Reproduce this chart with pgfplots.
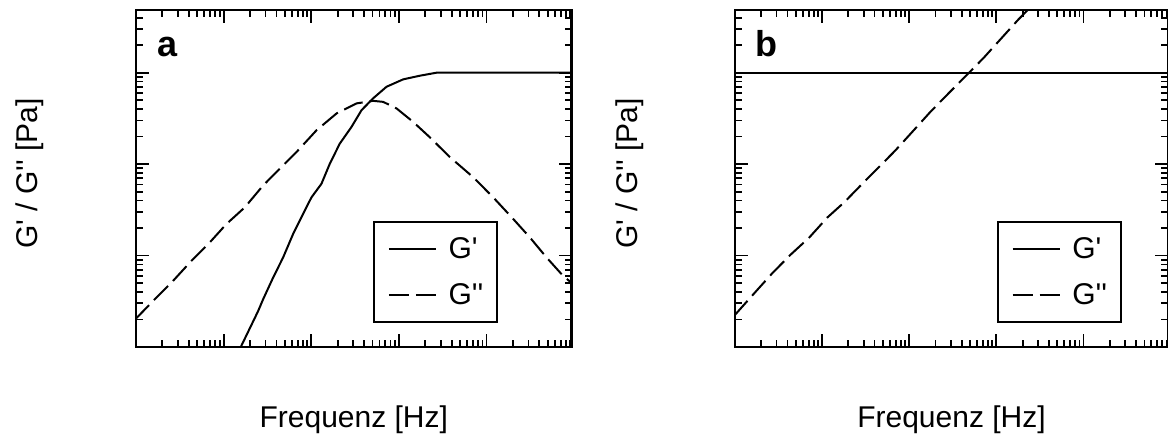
\documentclass[border=0pt]{standalone}
\usepackage{fontspec}
\setmainfont{Liberation Sans}
\usepackage{pgfplots}
\pgfplotsset{compat=1.18}
\newcommand{\q}{\textquotesingle}
\tikzset{
  gp/.style={black, line width=1pt, solid},
  gpp/.style={black, line width=1pt, dash pattern=on 10pt off 3.5pt},
}
\begin{document}
\begin{tikzpicture}
\useasboundingbox (0,0) rectangle (584pt,-218.5pt);
\begin{axis}[xmode=log, ymode=log, scale only axis, height=168.5pt, width=217.8pt,
    at={(68pt,-173.5pt)}, anchor=south west,
    xmin=0.01, xmax=933, ymin=1, ymax=4850,
    xticklabels={}, yticklabels={},
    axis line style={line width=1.3pt},
    tick style={black, line width=0.9pt},
    major tick length=6.3pt, minor tick length=3.3pt,
    tick align=inside,
    xlabel={Frequenz [Hz]}, ylabel={G\q{} / G\q\q{} [Pa]},
    label style={font=\fontsize{15}{18}\selectfont},
    xlabel style={at={(axis description cs:0.5,-0.2166)}, anchor=center},
    ylabel style={at={(axis description cs:-0.2433,0.515)}, anchor=center},
    legend style={draw=black, line width=1pt, fill=white,
      font=\fontsize{15}{18}\selectfont, inner xsep=6.8pt, inner ysep=7.5pt,
      row sep=11pt, column sep=5.8pt, nodes={inner sep=0pt},
      at={(0.8308,0.0703)}, anchor=south east},
    legend cell align=left,
    legend image code/.code={\draw[#1] (0pt,0pt) -- (23.5pt,0pt);}]
\addplot[gp] table {
x y
0.148 0.891
0.2472 2.466
0.2818 3.319
0.3664 5.728
0.4764 9.506
0.6194 17.18
0.8054 28.51
1.005 43.35
1.306 60.95
1.626 100.9
2.113 167.5
2.877 255.3
3.741 389.0
5.070 523.6
7.211 701.5
11.17 845.3
17.34 926.8
26.85 1000
955 1000
};
\addlegendentry{G\q}
\addplot[gpp] table {
x y
0.00977 2.0
0.01633 3.319
0.02642 5.272
0.04285 8.750
0.06934 13.90
0.1076 22.13
0.1742 33.65
0.2818 58.34
0.4365 88.92
0.6776 135.5
1.146 234.4
1.941 358.1
3.281 461.3
5.070 492.0
6.607 479.7
9.397 406.4
14.52 289.7
22.54 196.3
38.11 119.4
70.31 71.94
118.9 43.35
201.4 25.12
311.9 15.78
484.2 9.506
717.8 6.252
955 4.898
};
\addlegendentry{G\q\q}
\node[anchor=base west, inner sep=0pt, font=\fontsize{18}{18}\selectfont\bfseries] at (axis description cs:0.0473,0.8605) {a};
\end{axis}
\begin{axis}[xmode=log, ymode=log, scale only axis, height=168.5pt, width=216.5pt,
    at={(367.5pt,-173.5pt)}, anchor=south west,
    xmin=0.01, xmax=933, ymin=1, ymax=4850,
    xticklabels={}, yticklabels={},
    axis line style={line width=1.3pt},
    tick style={black, line width=0.9pt},
    major tick length=6.3pt, minor tick length=3.3pt,
    tick align=inside,
    xlabel={Frequenz [Hz]}, ylabel={G\q{} / G\q\q{} [Pa]},
    label style={font=\fontsize{15}{18}\selectfont},
    xlabel style={at={(axis description cs:0.5,-0.2166)}, anchor=center},
    ylabel style={at={(axis description cs:-0.2433,0.515)}, anchor=center},
    legend style={draw=black, line width=1pt, fill=white,
      font=\fontsize{15}{18}\selectfont, inner xsep=6.8pt, inner ysep=7.5pt,
      row sep=11pt, column sep=5.8pt, nodes={inner sep=0pt},
      at={(0.893,0.0703)}, anchor=south east},
    legend cell align=left,
    legend image code/.code={\draw[#1] (0pt,0pt) -- (23.5pt,0pt);}]
\addplot[gp] table {
x y
0.00977 1000
955 1000
};
\addlegendentry{G\q}
\addplot[gpp] table {
x y
0.00977 2.193
0.01754 4.093
0.02716 6.501
0.04406 10.35
0.07129 15.78
0.1153 26.18
0.1791 38.19
0.2891 60.95
0.4487 92.68
0.6950 141.6
1.125 234.4
1.746 372.4
2.825 594.3
4.571 944.1
7.079 1439
11.46 2388
17.78 3793
23.12 4887
30.2 6310
};
\addlegendentry{G\q\q}
\node[anchor=base west, inner sep=0pt, font=\fontsize{18}{18}\selectfont\bfseries] at (axis description cs:0.0473,0.8605) {b};
\end{axis}
\end{tikzpicture}
\end{document}
